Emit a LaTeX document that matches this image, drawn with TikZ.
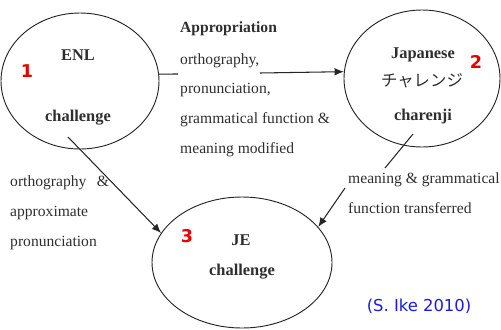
\documentclass[tikz,border=0pt]{standalone}
\usepackage{fontspec}
\setmainfont{Liberation Serif}
\newfontfamily\jpfont{Noto Sans CJK JP}
\newfontfamily\numfont{DejaVu Sans}
\usetikzlibrary{arrows.meta,positioning,shapes.geometric}
\definecolor{InkGray}{HTML}{2E2E2E}
\definecolor{NumRed}{HTML}{E60000}
\definecolor{CiteBlue}{HTML}{1A1AE6}

\begin{document}
\begin{tikzpicture}[x=0.03cm,y=-0.03cm,>={Latex[length=8pt,width=6.5pt]},
  oval/.style={draw=black!85,line width=0.8pt,ellipse,inner sep=0pt},
  txt/.style={text=InkGray,font=\fontsize{13.3}{15}\selectfont,inner sep=0pt,anchor=base west},
  head/.style={text=InkGray,font=\fontsize{14}{16}\selectfont\bfseries,inner sep=0pt,anchor=base},
  num/.style={text=NumRed,font=\numfont\fontsize{15}{17}\selectfont\bfseries,inner sep=0pt},
  link/.style={draw=black!85,line width=0.9pt}]
\useasboundingbox (0,0) rectangle (501,329);
% the three words
\node[oval,minimum width=4.74cm,minimum height=4.08cm] (enl) at (80,81) {};
\node[oval,minimum width=4.68cm,minimum height=4.11cm] (jap) at (422,78.5) {};
\node[oval,minimum width=5.4cm,minimum height=3.93cm] (je) at (242,262.5) {};
\node[head] (enlA) at (78,60) {ENL};
\node[head] (enlB) at (78,121) {challenge};
\node[head] (japA) at (423,58) {Japanese};
\node[anchor=base,inner sep=0pt,text=InkGray,font=\jpfont\fontsize{14}{16}\selectfont] (japB) at (422,86) {チャレンジ};
\node[head] (japC) at (423,120) {charenji};
\node[head] (jeA) at (241,245) {JE};
\node[head] (jeB) at (242,275) {challenge};
\node[num] (n1) at (27,71) {1};
\node[num] (n2) at (476,62) {2};
\node[num] (n3) at (187,236) {3};
% labels
\node[txt,font=\fontsize{13.3}{15}\selectfont\bfseries] (appr) at (180,32) {Appropriation};
\node[txt] (mA) at (180,64) {orthography,};
\node[txt] (mB) at (180,93.5) {pronunciation,};
\node[txt] (mC) at (180,123) {grammatical function \&};
\node[txt] (mD) at (180,153) {meaning modified};
\node[txt] (lA) at (10,186) {orthography\hspace{9pt}\&};
\node[txt] (lB) at (10,216) {approximate};
\node[txt] (lC) at (10,246) {pronunciation};
\node[txt] (rA) at (348,183) {meaning \& grammatical};
\node[txt] (rB) at (348,213) {function transferred};
\node[anchor=base,inner sep=0pt,text=CiteBlue,font=\numfont\fontsize{14}{16}\selectfont] (cite) at (419,311) {(S. Ike 2010)};
% connectors
\coordinate (gapL) at (178,74);
\coordinate (gapR) at (260,73);
\coordinate (fromL) at (68,137);
\coordinate (fromR) at (413,134);
\coordinate (endR) at (385,168);
\coordinate (startR) at (345,188);
\draw[link] (enl.5)--(gapL);
\draw[link,->] (gapR)--(jap.175);
\draw[link,->] (fromL)--(je.160);
\draw[link] (fromR)--(endR);
\draw[link,->] (startR)--(je.25);
\end{tikzpicture}
\end{document}
